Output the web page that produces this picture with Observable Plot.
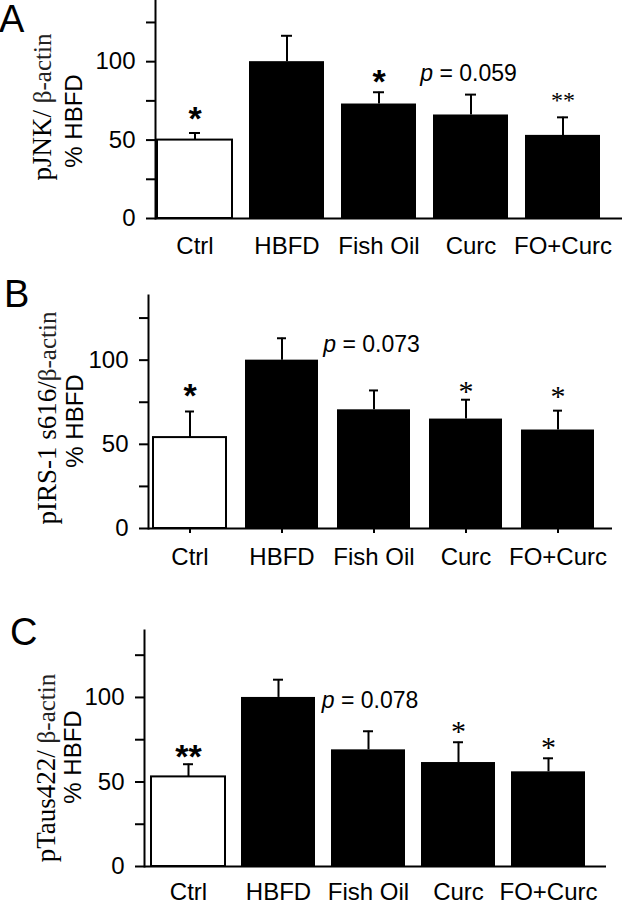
<!DOCTYPE html>
<html><head><meta charset="utf-8">
<script src="https://cdn.jsdelivr.net/npm/d3@7"></script>
<script src="https://cdn.jsdelivr.net/npm/@observablehq/plot@0.6"></script>
<style>
body{margin:0;background:#fff;}
#root{position:relative;width:623px;height:900px;overflow:hidden;background:#fff;font-family:"Liberation Sans",Arial,sans-serif;color:#000}
.panel{position:absolute;left:0}
.letter{position:absolute;font-size:38px;line-height:1;font-family:"Liberation Sans",Arial,sans-serif}
.ylab{position:absolute;white-space:nowrap;transform:translate(-50%,-50%) rotate(-90deg);line-height:1}
.serif{font-family:"Liberation Serif","Times New Roman",serif;font-size:27px}
.serif .sub{font-size:25px;color:#222}
.sans{font-family:"Liberation Sans",Arial,sans-serif;font-size:24px}
</style></head><body><div id="root"></div>
<script>
// ---- data ----
const groups = ["Ctrl", "HBFD", "Fish Oil", "Curc", "FO+Curc"];

const meanA = [50, 100, 73, 66, 53];
const errA  = [4.5, 16.5, 7.5, 13, 11.5];
const meanB = [54, 100, 70.5, 65, 58.5];
const errB  = [15.5, 13, 11.5, 11.5, 11.5];
const meanC = [53, 100, 69, 61.5, 56];
const errC  = [7.5, 10.5, 11, 12, 8];

const starsA = [
  {group: "Ctrl", text: "*", bold: true, at: 69},
  {group: "Fish Oil", text: "*", bold: true, at: 93},
  {group: "FO+Curc", text: "**", bold: false, at: 78}
];
const starsB = [
  {group: "Ctrl", text: "*", bold: true, at: 84},
  {group: "Curc", text: "*", bold: false, at: 84},
  {group: "FO+Curc", text: "*", bold: false, at: 81}
];
const starsC = [
  {group: "Ctrl", text: "**", bold: true, at: 70},
  {group: "Curc", text: "*", bold: false, at: 82},
  {group: "FO+Curc", text: "*", bold: false, at: 73}
];

const pA = [{group: "Curc", value: "0.059", at: 93}];
const pB = [{group: "Fish Oil", value: "0.073", at: 110}];
const pC = [{group: "Fish Oil", value: "0.078", at: 99}];

const titleA = ["pJNK/ ", "β-actin"];
const titleB = ["pIRS-1 s616/", "β-actin"];
const titleC = ["pTaus422/ ", "β-actin"];
const unitLine = "% HBFD";
const letters = ["A", "B", "C"];

const yTicksMajor = [0, 50, 100];
const yTicksMinor = [25, 75, 125];

// ---- layout ----
const layouts = [
  {top: 0, height: 260, mt: 0, mb: 42, ml: 155, mr: 1, yMax: 139, xRange: [157, 600], pad: 0.185,
   xTick: 0, xPad: 18, pDx: -38, lightSize: 24, letter: [-1, 0], l1: [42, 107], l2: [74, 121]},
  {top: 270, height: 300, mt: 25, mb: 42, ml: 148, mr: 11, yMax: 138.4, xRange: [151, 597], pad: 0.204,
   xTick: 5, xPad: 14, pDx: -38, lightSize: 30, letter: [4, 275], l1: [47, 418], l2: [75, 421]},
  {top: 600, height: 300, mt: 30, mb: 34, ml: 144, mr: 17, yMax: 139.6, xRange: [150, 585.6], pad: 0.181,
   xTick: 0, xPad: 16, pDx: -34, lightSize: 30, letter: [10, 613], l1: [46, 768], l2: [73, 757]}
];

const panels = [
  {mean: meanA, err: errA, stars: starsA, p: pA, title: titleA},
  {mean: meanB, err: errB, stars: starsB, p: pB, title: titleB},
  {mean: meanC, err: errC, stars: starsC, p: pC, title: titleC}
];

const root = document.getElementById("root");

panels.forEach((pd, k) => {
  const L = layouts[k];
  const rows = groups.map((g, i) => ({group: g, mean: pd.mean[i], err: pd.err[i]}));
  const svg = Plot.plot({
    width: 623,
    height: L.height,
    marginTop: L.mt, marginBottom: L.mb, marginLeft: L.ml, marginRight: L.mr,
    style: {fontFamily: "'Liberation Sans', Arial, sans-serif", fontSize: "24px", background: "transparent", color: "black", overflow: "visible"},
    x: {type: "band", domain: groups, range: L.xRange, paddingInner: L.pad, paddingOuter: 0, label: null},
    y: {domain: [0, L.yMax], label: null},
    marks: [
      Plot.barY(rows, {filter: d => d.group !== "Ctrl", x: "group", y: "mean", fill: "black"}),
      Plot.barY(rows, {filter: d => d.group === "Ctrl", x: "group", y: "mean", fill: "white", stroke: "black", strokeWidth: 2}),
      Plot.ruleX(rows, {x: "group", y1: "mean", y2: d => d.mean + d.err, strokeWidth: 2}),
      Plot.tickY(rows, {x: "group", y: d => d.mean + d.err, strokeWidth: 2, insetLeft: 32, insetRight: 32}),
      Plot.axisY({ticks: yTicksMajor, tickSize: 9, tickPadding: 11, fontSize: 24, strokeWidth: 2, label: null}),
      Plot.axisY({ticks: yTicksMinor, tickSize: 9, tickFormat: () => "", strokeWidth: 2, label: null}),
      Plot.axisX({tickSize: L.xTick, tickPadding: L.xPad, fontSize: 24, strokeWidth: 2, label: null}),
      Plot.frame({anchor: "left", strokeWidth: 2}),
      Plot.ruleY([0], {strokeWidth: 2}),
      Plot.text(pd.stars.filter(d => d.bold), {x: "group", y: "at", text: "text", fill: "#000", fontFamily: "'Liberation Sans', Arial, sans-serif", fontWeight: "bold", fontSize: 34, dy: 9}),
      Plot.text(pd.stars.filter(d => !d.bold), {x: "group", y: "at", text: "text", fill: "#000", fontFamily: "'Liberation Serif', 'Times New Roman', serif", fontSize: L.lightSize, dy: 4}),
      Plot.text(pd.p, {x: "group", y: "at", text: () => "p", fill: "#000", fontStyle: "italic", textAnchor: "end", dx: L.pDx, dy: 1, fontSize: 23}),
      Plot.text(pd.p, {x: "group", y: "at", text: d => "\u00a0=\u00a0" + d.value, fill: "#000", textAnchor: "start", dx: L.pDx, dy: 1, fontSize: 23})
    ]
  });
  svg.classList.add("panel");
  svg.style.top = L.top + "px";
  root.appendChild(svg);

  const letter = document.createElement("div");
  letter.className = "letter";
  letter.textContent = letters[k];
  letter.style.left = L.letter[0] + "px";
  letter.style.top = L.letter[1] + "px";
  root.appendChild(letter);

  const l1 = document.createElement("div");
  l1.className = "ylab serif";
  const a = document.createElement("span");
  a.textContent = pd.title[0];
  const b = document.createElement("span");
  b.className = "sub";
  b.textContent = pd.title[1];
  l1.appendChild(a); l1.appendChild(b);
  l1.style.left = L.l1[0] + "px";
  l1.style.top = L.l1[1] + "px";
  root.appendChild(l1);

  const l2 = document.createElement("div");
  l2.className = "ylab sans";
  l2.textContent = unitLine;
  l2.style.left = L.l2[0] + "px";
  l2.style.top = L.l2[1] + "px";
  root.appendChild(l2);
});
</script>
</body></html>
